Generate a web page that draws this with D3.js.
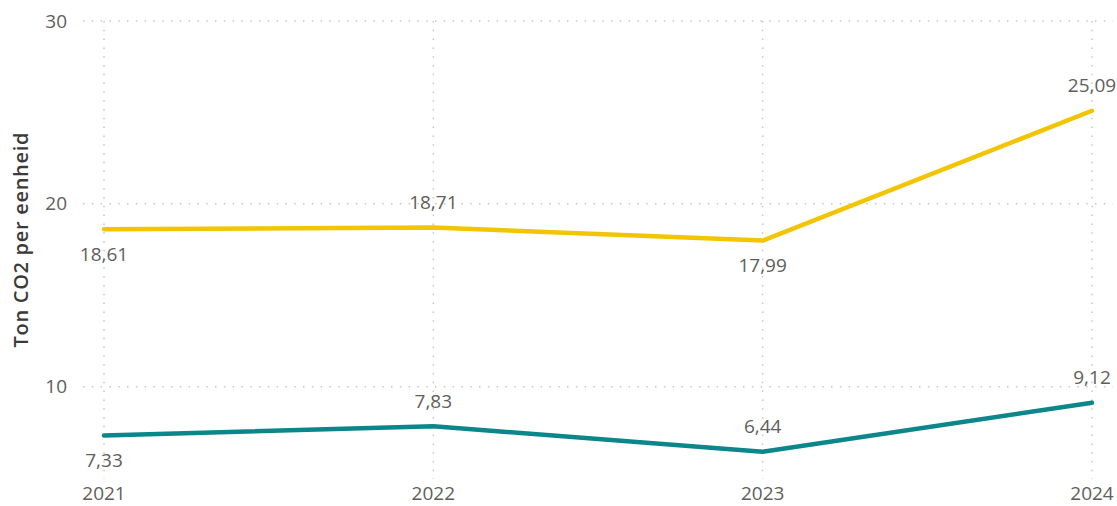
<!DOCTYPE html>
<html>
<head>
<meta charset="utf-8">
<script src="https://cdn.jsdelivr.net/npm/d3@7"></script>
<style>
  html, body { margin: 0; padding: 0; background: #fff; }
  svg { display: block; font-family: "Open Sans", "Noto Sans", sans-serif; }
</style>
</head>
<body>
<svg id="chart" width="1117" height="506"></svg>
<script>
const years = ["2021", "2022", "2023", "2024"];
const yellowValues = [18.61, 18.71, 17.99, 25.09];
const tealValues = [7.33, 7.83, 6.44, 9.12];
const yellowLabelPos = ["below", "above", "below", "above"];
const tealLabelPos = ["below", "above", "above", "above"];
const yTicks = [10, 20, 30];
const yTitle = "Ton CO2 per eenheid";

const svg = d3.select("#chart");
const plotLeft = 83, plotRight = 1113, plotTop = 21, plotBottom = 479;

const x = d3.scalePoint().domain(years).range([104, 1092]);
const y = d3.scaleLinear().domain([4.95, 30]).range([plotBottom, plotTop]);

const fmt = v => d3.format(".2f")(v).replace(".", ",");

// horizontal gridlines
svg.append("g").selectAll("line").data(yTicks).join("line")
  .attr("x1", plotLeft).attr("x2", plotRight)
  .attr("y1", d => y(d)).attr("y2", d => y(d))
  .attr("stroke", "#c8c6c4").attr("stroke-width", 1.5)
  .attr("stroke-dasharray", "1.5 7.3");

// vertical gridlines
svg.append("g").selectAll("line").data(years).join("line")
  .attr("x1", d => x(d)).attr("x2", d => x(d))
  .attr("y1", plotTop).attr("y2", plotBottom)
  .attr("stroke", "#c8c6c4").attr("stroke-width", 1.5)
  .attr("stroke-dasharray", "1.5 7.3");

// y tick labels
svg.append("g").selectAll("text").data(yTicks).join("text")
  .attr("x", 67).attr("y", d => y(d))
  .attr("dy", "0.35em").attr("text-anchor", "end")
  .attr("font-size", 19).attr("fill", "#605e5c")
  .text(d => d);

// x tick labels
svg.append("g").selectAll("text").data(years).join("text")
  .attr("x", d => x(d)).attr("y", 500)
  .attr("text-anchor", "middle")
  .attr("font-size", 19).attr("fill", "#605e5c")
  .text(d => d);

// y axis title
svg.append("text")
  .attr("transform", "translate(21,240) rotate(-90)")
  .attr("dy", "0.35em").attr("text-anchor", "middle")
  .attr("font-size", 20).attr("font-weight", 600).attr("fill", "#3b3a39")
  .attr("textLength", 215).attr("lengthAdjust", "spacing")
  .text(yTitle);

const line = d3.line().x((d, i) => x(years[i])).y(d => y(d));

const series = [
  { values: yellowValues, color: "#f2c500", pos: yellowLabelPos },
  { values: tealValues, color: "#0b868b", pos: tealLabelPos }
];

series.forEach(s => {
  svg.append("path").datum(s.values)
    .attr("d", line)
    .attr("fill", "none").attr("stroke", s.color)
    .attr("stroke-width", 4.5).attr("stroke-linejoin", "round").attr("stroke-linecap", "round");
  svg.append("g").selectAll("text").data(s.values).join("text")
    .attr("x", (d, i) => x(years[i]))
    .attr("y", (d, i) => y(d) + (s.pos[i] === "above" ? -25 : 25))
    .attr("dy", "0.35em").attr("text-anchor", "middle")
    .attr("font-size", 19).attr("fill", "#605e5c")
    .text(d => fmt(d));
});
</script>
</body>
</html>
